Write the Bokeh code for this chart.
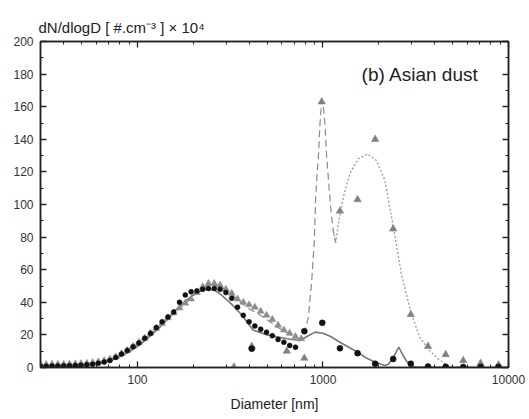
from bokeh.plotting import figure
from bokeh.models import LogAxis, LinearAxis, Label, FixedTicker, SingleIntervalTicker, PrintfTickFormatter
from bokeh.embed import file_html
from bokeh.resources import INLINE

# ---- data ----
dense_d = [30, 32.2, 34.6, 37.2, 40, 43, 46.2, 49.6, 53.3, 57.3, 61.5, 66.1, 71, 76.3, 82, 88.1,
           94.7, 101.8, 109.4, 117.6, 126.3, 135.7, 145.9, 156.8, 168.5, 181, 194.5, 209, 224.7,
           241.4, 259.4, 278.8, 299.6, 322, 346, 371.8, 399.5, 429.3, 461.4, 495.8, 532.8, 572.5,
           615.3, 661.2, 710.5]
dense_black = [0.8, 0.8, 0.9, 0.9, 1.0, 1.1, 1.2, 1.4, 1.7, 2.0, 2.6, 3.3, 4.3, 6.2, 8.3, 10.5,
               12.8, 15, 18, 21, 24.5, 28, 31, 34, 40, 44.5, 46.5, 47, 48, 48.5, 48.5, 48, 46,
               42.5, 37, 32, 28, 25.5, 23.5, 21.7, 19.5, 17.2, 15.5, 13.5, 12.5]
dense_d_gray = dense_d + [763.5]
dense_gray = [1.8, 1.8, 1.9, 2.0, 2.0, 2.1, 2.2, 2.4, 2.6, 3.0, 3.5, 4.2, 5.2, 6.5, 8.5, 10.5,
              13, 15.5, 18, 21, 24, 27, 30.5, 33.5, 36.5, 39.5, 42, 46, 49.5, 51.5, 51.5, 50.5,
              48, 45.5, 42, 40, 38.5, 37, 34.5, 32, 29.5, 26, 23, 21, 19, 17.6]

sparse_d_gray = [331, 413, 638, 793, 984, 1234, 1536, 1910, 2389, 2973, 3682, 4585, 5703, 7070, 8830]
sparse_gray = [0.3, 13, 10, 5.7, 163, 96, 103, 140, 85, 32.5, 13, 8, 4.3, 2.6, 1.6]
sparse_d_black = [413, 793, 991, 1234, 1536, 1910, 2389, 2973, 3682, 4585, 5703, 7070, 8830]
sparse_black = [11.5, 22.3, 27.4, 11.8, 8.8, 2.3, 5.2, 2.3, 0.6, 0.4, 0.3, 0.3, 0.3]

solid_d = [30, 40, 50, 60, 70, 80, 90, 100, 115, 130, 145, 160, 180, 200, 220, 237, 260, 280, 300,
           320, 360, 420, 500, 640, 750, 820, 906, 1000, 1100, 1234, 1400, 1536, 1700, 1910, 2150,
           2250, 2389, 2562, 2700, 2818, 2973, 3200, 10000]
solid_v = [0.3, 0.6, 1.0, 2.0, 4.0, 6.5, 9.5, 13, 18.5, 24, 29.5, 35, 40.5, 44.5, 47, 48, 47.5, 45,
           42, 39, 33, 23, 20, 17.6, 16.6, 19, 21.7, 21, 19, 15.5, 12, 9.4, 6, 3.3, 1.2,
           2, 6, 12.5, 7.5, 4, 1.2, 0.2, 0]

dash_d = [30, 40, 50, 60, 70, 80, 100, 120, 140, 160, 180, 200, 225, 250, 280, 320, 360, 400, 476,
          563, 692, 752, 800, 834, 869, 898, 913, 925, 944, 963, 984, 1005, 1025, 1047, 1081, 1100,
          1136, 1170]
dash_v = [1.5, 1.8, 2.2, 3, 4.8, 7.5, 14, 21, 28, 34, 39, 44, 49, 51, 50, 45, 40, 36, 31, 25, 19,
          17.6, 22.7, 31, 53, 78, 104, 115, 129, 149, 164, 160, 149, 129, 109, 98, 84, 76.5]

dot_d = [1136, 1170, 1210, 1286, 1397, 1548, 1740, 1941, 2154, 2388, 2646, 2973, 3320, 3682, 4160,
         4730, 5200, 10000]
dot_v = [84, 76.5, 88, 104.5, 119, 128, 131, 127, 115, 87, 57.5, 34, 18.6, 11.5, 5.3, 1.2, 0, 0]

x_major = [100, 1000, 10000]
x_minor = [30, 40, 50, 60, 70, 80, 90, 200, 300, 400, 500, 600, 700, 800, 900,
           2000, 3000, 4000, 5000, 6000, 7000, 8000, 9000]

FONT = "Liberation Sans"

p = figure(width=529, height=419, x_axis_type="log", x_range=(30, 10000), y_range=(0, 200),
           output_backend="svg", toolbar_location=None,
           title="dN/dlogD [ #.cm\u207b\u00b3 ] \u00d7 10\u2074",
           min_border_left=40, min_border_right=21, min_border_top=41, min_border_bottom=52)
p.title.text_font = FONT
p.title.text_font_size = "15px"
p.title.text_font_style = "normal"
p.title.text_color = "#222222"
p.title.align = "left"
p.title.offset = -2
p.title.standoff = 12
p.xgrid.visible = False
p.ygrid.visible = False
p.outline_line_color = "#222222"
p.outline_line_width = 1.5
p.background_fill_color = "white"
p.border_fill_color = "white"

def style_axis(ax, labels=True):
    ax.axis_line_color = "#222222"
    ax.axis_line_width = 1.5
    ax.major_tick_in = 6
    ax.major_tick_out = 0
    ax.minor_tick_in = 3
    ax.minor_tick_out = 0
    ax.major_tick_line_color = "#222222"
    ax.minor_tick_line_color = "#222222"
    ax.major_tick_line_width = 1.3
    ax.minor_tick_line_width = 1.0
    ax.major_label_text_font = FONT
    ax.major_label_text_font_size = "12px"
    ax.major_label_text_color = "#333333"
    ax.axis_label_text_font = FONT
    ax.axis_label_text_font_style = "normal"
    ax.axis_label_text_font_size = "14px"
    ax.axis_label_text_color = "#222222"
    if not labels:
        ax.major_label_text_font_size = "0px"
        ax.major_label_text_alpha = 0

xt = FixedTicker(ticks=x_major, minor_ticks=x_minor)
yt = SingleIntervalTicker(interval=20, num_minor_ticks=2)

xa = p.xaxis[0]
xa.ticker = xt
xa.formatter = PrintfTickFormatter(format="%d")
xa.axis_label = "Diameter [nm]"
xa.major_label_standoff = 7
xa.axis_label_standoff = 9
style_axis(xa)

ya = p.yaxis[0]
ya.ticker = yt
ya.major_label_standoff = 7
style_axis(ya)

top = LogAxis(ticker=FixedTicker(ticks=x_major, minor_ticks=x_minor))
style_axis(top, labels=False)
p.add_layout(top, "above")
right = LinearAxis(ticker=SingleIntervalTicker(interval=20, num_minor_ticks=2))
style_axis(right, labels=False)
p.add_layout(right, "right")

# lines
p.line(solid_d, solid_v, line_color="#777777", line_width=1.6)
p.line(dash_d, dash_v, line_color="#8a8a8a", line_width=1.2, line_dash="7 4")
p.line(dot_d, dot_v, line_color="#9a9a9a", line_width=1.3, line_dash="2 2")

# dense points
p.scatter(dense_d_gray, dense_gray, marker="triangle", size=7, fill_color="#8c8c8c",
          line_color="#8c8c8c", line_width=0.5)
p.scatter(dense_d, dense_black, marker="circle", size=5, fill_color="#111111",
          line_color="#111111", line_width=0.5)

# sparse points
p.scatter(sparse_d_gray, sparse_gray, marker="triangle", size=7.5, fill_color="#808080",
          line_color="#808080", line_width=0.5)
p.scatter(sparse_d_black, sparse_black, marker="circle", size=6, fill_color="#111111",
          line_color="#111111", line_width=0.5)

# annotation
p.add_layout(Label(x=1615, y=180, text="(b) Asian dust", text_font=FONT, text_font_size="19px",
                   text_color="#222222", text_baseline="middle", text_align="left"))

open("out.html", "w").write(file_html(p, INLINE))
